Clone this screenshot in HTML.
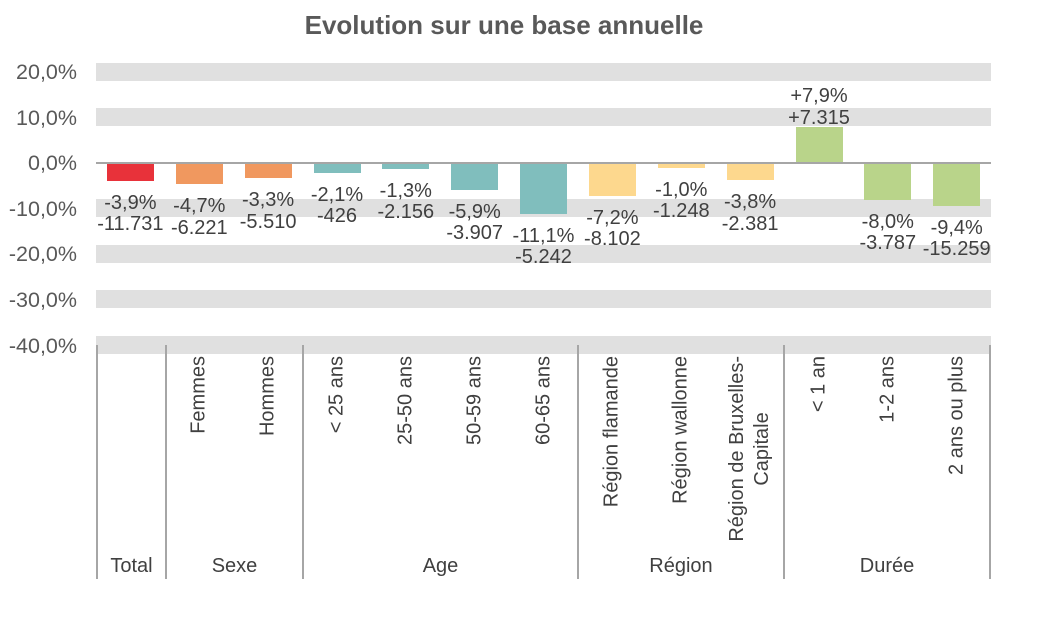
<!DOCTYPE html>
<html>
<head>
<meta charset="utf-8">
<style>
  html, body { margin:0; padding:0; background:#fff; }
  #c { position:relative; width:1042px; height:641px; overflow:hidden; background:#fff;
       font-family:"Liberation Sans", Arial, sans-serif; color:#404040; }
  .title { position:absolute; left:0; width:1008px; top:10px; text-align:center;
           font-weight:bold; font-size:26px; line-height:30px; color:#595959; }
  .band { position:absolute; left:96px; width:895px; height:18px; background:#E0E0E0; }
  .tick { position:absolute; left:0; width:77px; text-align:right; font-size:21.5px;
          line-height:24px; color:#595959; white-space:nowrap; }
  .axis { position:absolute; left:96px; width:895px; top:162px; height:2px; background:#A6A6A6; }
  .bar { position:absolute; width:47px; }
  .lbl { position:absolute; width:110px; text-align:center; font-size:20px; line-height:21.5px;
         color:#404040; white-space:nowrap; }
  .vl { position:absolute; top:345px; height:234px; width:2px; background:#A6A6A6; }
  .cat { position:absolute; top:356px; writing-mode:vertical-rl; font-size:20px; line-height:25px;
         text-align:center; white-space:nowrap; color:#404040;
         transform:translateX(-50%) rotate(180deg); }
  .grp { position:absolute; top:554px; font-size:20px; line-height:24px; text-align:center;
         color:#404040; white-space:nowrap; }
</style>
</head>
<body>
<div id="c">
  <div class="title">Evolution sur une base annuelle</div>

  <!-- bands -->
  <div class="band" style="top:63px"></div>
  <div class="band" style="top:108px"></div>
  <div class="band" style="top:199px"></div>
  <div class="band" style="top:245px"></div>
  <div class="band" style="top:290px"></div>
  <div class="band" style="top:336px"></div>

  <!-- tick labels -->
  <div class="tick" style="top:60px">20,0%</div>
  <div class="tick" style="top:105.6px">10,0%</div>
  <div class="tick" style="top:151.2px">0,0%</div>
  <div class="tick" style="top:196.8px">-10,0%</div>
  <div class="tick" style="top:242.4px">-20,0%</div>
  <div class="tick" style="top:288px">-30,0%</div>
  <div class="tick" style="top:333.6px">-40,0%</div>

  <!-- bars -->
  <div class="bar" style="left:106.9px;top:164px;height:16.8px;background:#E8323A"></div>
  <div class="bar" style="left:175.8px;top:164px;height:20.4px;background:#F0985F"></div>
  <div class="bar" style="left:244.6px;top:164px;height:14px;background:#F0985F"></div>
  <div class="bar" style="left:313.5px;top:164px;height:8.6px;background:#80BEBD"></div>
  <div class="bar" style="left:382.3px;top:164px;height:4.9px;background:#80BEBD"></div>
  <div class="bar" style="left:451.2px;top:164px;height:25.9px;background:#80BEBD"></div>
  <div class="bar" style="left:520px;top:164px;height:49.6px;background:#80BEBD"></div>
  <div class="bar" style="left:588.9px;top:164px;height:31.8px;background:#FDD88E"></div>
  <div class="bar" style="left:657.8px;top:164px;height:3.6px;background:#FDD88E"></div>
  <div class="bar" style="left:726.6px;top:164px;height:16.3px;background:#FDD88E"></div>
  <div class="bar" style="left:795.5px;top:127px;height:35px;background:#B9D48A"></div>
  <div class="bar" style="left:864.3px;top:164px;height:35.5px;background:#B9D48A"></div>
  <div class="bar" style="left:933.2px;top:164px;height:41.9px;background:#B9D48A"></div>

  <div class="axis"></div>

  <!-- data labels -->
  <div class="lbl" style="left:75.4px;top:192.8px">-3,9%<br>-11.731</div>
  <div class="lbl" style="left:144.3px;top:196.4px">-4,7%<br>-6.221</div>
  <div class="lbl" style="left:213.1px;top:190px">-3,3%<br>-5.510</div>
  <div class="lbl" style="left:282px;top:184.6px">-2,1%<br>-426</div>
  <div class="lbl" style="left:350.8px;top:180.9px">-1,3%<br>-2.156</div>
  <div class="lbl" style="left:419.7px;top:201.9px">-5,9%<br>-3.907</div>
  <div class="lbl" style="left:488.5px;top:225.6px">-11,1%<br>-5.242</div>
  <div class="lbl" style="left:557.4px;top:207.8px">-7,2%<br>-8.102</div>
  <div class="lbl" style="left:626.3px;top:179.6px">-1,0%<br>-1.248</div>
  <div class="lbl" style="left:695.1px;top:192.3px">-3,8%<br>-2.381</div>
  <div class="lbl" style="left:764px;top:86px">+7,9%<br>+7.315</div>
  <div class="lbl" style="left:832.8px;top:211.5px">-8,0%<br>-3.787</div>
  <div class="lbl" style="left:901.7px;top:217.9px">-9,4%<br>-15.259</div>

  <!-- separator lines -->
  <div class="vl" style="left:96px"></div>
  <div class="vl" style="left:165px"></div>
  <div class="vl" style="left:302px"></div>
  <div class="vl" style="left:577px"></div>
  <div class="vl" style="left:783px"></div>
  <div class="vl" style="left:989px"></div>

  <!-- category labels -->
  <div class="cat" style="left:199.3px">Femmes</div>
  <div class="cat" style="left:268.1px">Hommes</div>
  <div class="cat" style="left:337px">&lt; 25 ans</div>
  <div class="cat" style="left:405.8px">25-50 ans</div>
  <div class="cat" style="left:474.7px">50-59 ans</div>
  <div class="cat" style="left:543.5px">60-65 ans</div>
  <div class="cat" style="left:612.4px">Région flamande</div>
  <div class="cat" style="left:681.3px">Région wallonne</div>
  <div class="cat" style="left:750.1px">Région de Bruxelles-<br>Capitale</div>
  <div class="cat" style="left:819px">&lt; 1 an</div>
  <div class="cat" style="left:887.8px">1-2 ans</div>
  <div class="cat" style="left:956.7px">2 ans ou plus</div>

  <!-- group labels -->
  <div class="grp" style="left:97px;width:69px">Total</div>
  <div class="grp" style="left:166px;width:137px">Sexe</div>
  <div class="grp" style="left:303px;width:275px">Age</div>
  <div class="grp" style="left:578px;width:206px">Région</div>
  <div class="grp" style="left:784px;width:206px">Durée</div>
</div>
</body>
</html>
